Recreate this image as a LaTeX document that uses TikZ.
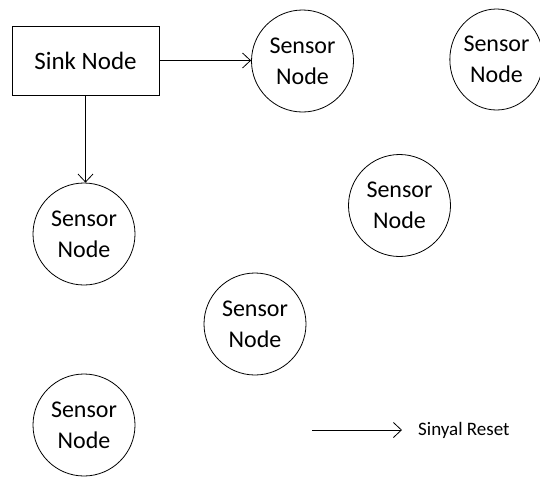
\documentclass[tikz,border=0pt]{standalone}
\usepackage{fontspec}
\setmainfont{Carlito}
\usetikzlibrary{arrows.meta,shapes.geometric}
\tikzset{
  sensor/.style={draw, circle, line width=0.8pt, minimum size=102pt, inner sep=0pt, align=center, font=\fontsize{24}{31}\selectfont},
  sinkbox/.style={draw, rectangle, line width=0.8pt, minimum width=147pt, minimum height=69pt, inner sep=0pt, font=\fontsize{25}{31}\selectfont},
  conn/.style={line width=0.8pt, -{Straight Barb[length=8pt,width=15pt]}},
  legtext/.style={anchor=west, inner sep=0pt, font=\fontsize{19}{22}\selectfont}
}
\begin{document}
\begin{tikzpicture}[x=1pt,y=-1pt]
\useasboundingbox (0,0) rectangle (540,477);
\node[sinkbox] (sink) at (85.5,60.5) {Sink Node};
\node[sensor] (s1) at (302.5,61) {Sensor\\Node};
\node[sensor, ellipse, minimum width=87pt, minimum height=101pt] (s2) at (496.5,59.5) {Sensor\\Node};
\node[sensor] (s3) at (84,234) {Sensor\\Node};
\node[sensor] (s4) at (399.5,205.5) {Sensor\\Node};
\node[sensor] (s5) at (255,324) {Sensor\\Node};
\node[sensor] (s6) at (84,425) {Sensor\\Node};
\draw[conn] (sink.east) -- (sink.east -| s1.west);
\draw[conn] (sink.south) -- (sink.south |- s3.north);
\coordinate (la) at (312,430);
\coordinate (lb) at (402,430);
\node[legtext] (leg) at (418,430) {Sinyal Reset};
\draw[conn] (la) -- (lb);
\end{tikzpicture}
\end{document}
